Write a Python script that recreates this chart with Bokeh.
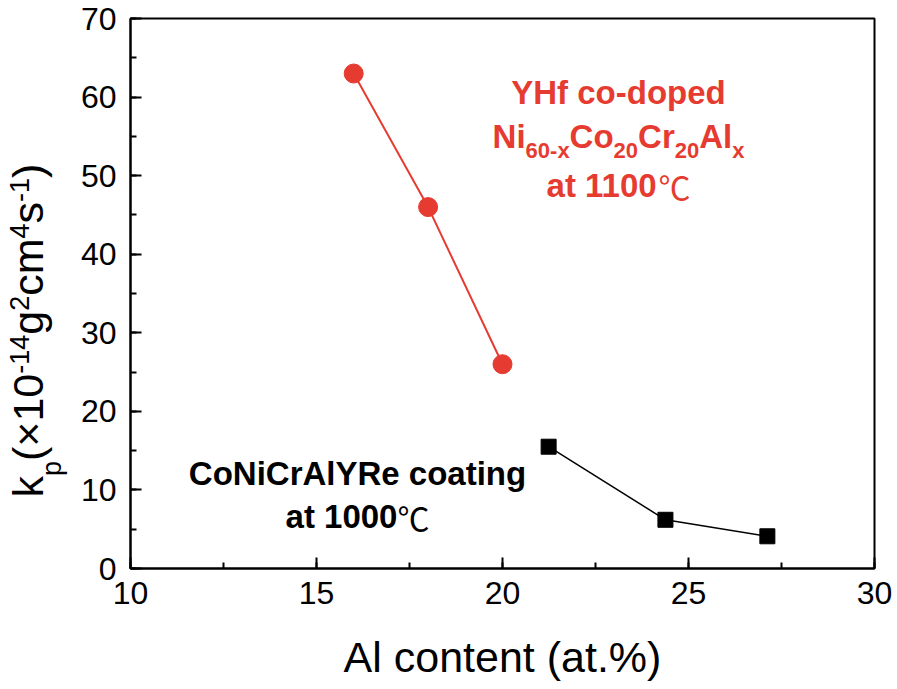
import math
from bokeh.plotting import figure
from bokeh.models import Label, SingleIntervalTicker
from bokeh.layouts import row
from bokeh.embed import file_html
from bokeh.resources import INLINE

# ---------------- data ----------------
red_al = [16, 18, 20]
red_kp = [63, 46, 26]
black_al = [21.24, 24.38, 27.12]
black_kp = [15.5, 6.2, 4.1]

x_range = (10, 30)
y_range = (0, 70)
x_tick_interval = 5
y_tick_interval = 10

x_title = "Al content (at.%)"
red_lines = ["YHf co-doped", "Ni|60-x|Co|20|Cr|20|Al|x", "at 1100"]
black_lines = ["CoNiCrAlYRe coating", "at 1000"]
celsius = "\u2103"

RED = "#e63b30"
FONT = "Liberation Sans"

# ---------------- layout (page px) ----------------
TOTAL_W, H = 897, 689
YL_W = 75                       # width of the y-title strip
FL, FR, FT, FB = 130, 874, 18, 568   # frame edges in page px
MAIN_W = TOTAL_W - YL_W
BASE_FIX = 0.36                 # label anchor -> alphabetic baseline correction (em)


def dx(X):
    return x_range[0] + (X - FL) * (x_range[1] - x_range[0]) / (FR - FL)


def dy(Y):
    return y_range[0] + (FB - Y) * (y_range[1] - y_range[0]) / (FB - FT)


REG = {"k": 500, "p": 556, "(": 333, ")": 333, "\u00d7": 584, "-": 333, "g": 556,
       "c": 500, "m": 833, "s": 500, "A": 667, "l": 222, "o": 556, "n": 556,
       "t": 278, "e": 556, "a": 556, ".": 278, "%": 889, " ": 278}
BOLD = {"Y": 667, "H": 722, "f": 333, " ": 278, "c": 556, "o": 611, "-": 333,
        "d": 611, "p": 611, "e": 556, "N": 722, "i": 278, "C": 722, "r": 389,
        "A": 722, "l": 278, "x": 556, "a": 556, "t": 333, "R": 722, "n": 611,
        "g": 611}


def tw(text, size, bold):
    tab = BOLD if bold else REG
    return sum(556 if ch.isdigit() else tab.get(ch, 556) for ch in text) * size / 1000.0


# ---------------- main figure ----------------
p = figure(width=MAIN_W, height=H, x_range=x_range, y_range=y_range,
           output_backend="svg", toolbar_location=None,
           min_border_left=FL - YL_W, min_border_right=TOTAL_W - FR,
           min_border_top=FT, min_border_bottom=H - FB)
p.background_fill_color = "white"
p.border_fill_color = "white"
p.outline_line_color = "black"
p.outline_line_width = 2
p.xgrid.visible = False
p.ygrid.visible = False

p.xaxis.ticker = SingleIntervalTicker(interval=x_tick_interval, num_minor_ticks=2)
p.yaxis.ticker = SingleIntervalTicker(interval=y_tick_interval, num_minor_ticks=2)
for ax in (p.xaxis, p.yaxis):
    ax.axis_line_width = 2
    ax.axis_line_color = "black"
    ax.major_tick_in = 11
    ax.major_tick_out = 0
    ax.minor_tick_in = 6
    ax.minor_tick_out = 0
    ax.major_tick_line_width = 2
    ax.minor_tick_line_width = 2
    ax.major_tick_line_color = "black"
    ax.minor_tick_line_color = "black"
    ax.major_label_text_font = FONT
    ax.major_label_text_font_size = "32px"
    ax.major_label_text_color = "black"
p.xaxis.major_label_standoff = 13
p.yaxis.major_label_standoff = 14
p.xaxis.axis_label = x_title
p.xaxis.axis_label_text_font = FONT
p.xaxis.axis_label_text_font_size = "43px"
p.xaxis.axis_label_text_font_style = "normal"
p.xaxis.axis_label_text_color = "black"
p.xaxis.axis_label_standoff = 26

# ---------------- series ----------------
p.line(red_al, red_kp, line_color=RED, line_width=2)
p.scatter(red_al, red_kp, size=19, marker="circle", fill_color=RED, line_color=RED)
p.line(black_al, black_kp, line_color="black", line_width=1.5)
p.scatter(black_al, black_kp, size=15, marker="square", fill_color="black", line_color="black")


def lab(fig, x, y, text, size, color="black", bold=False, angle=0.0, font=FONT):
    fig.add_layout(Label(x=x, y=y, text=text, angle=angle,
                         text_font=font, text_font_size=f"{size}px",
                         text_font_style="bold" if bold else "normal",
                         text_color=color, text_align="left",
                         text_baseline="alphabetic"))


def hlab(X, Y, text, size, color, bold=True, font=FONT):
    """horizontal label whose alphabetic baseline sits at page px (X, Y)"""
    lab(p, dx(X), dy(Y - BASE_FIX * size), text, size, color, bold, font=font)


# red annotation
cx_red = 618
w1 = tw(red_lines[0], 33, True)
hlab(cx_red - w1 / 2, 104, red_lines[0], 33, RED)
parts = red_lines[1].split("|")
segs = [(t, 33 if i % 2 == 0 else 22, 0 if i % 2 == 0 else 10) for i, t in enumerate(parts)]
tot = sum(tw(t, s, True) for t, s, _ in segs)
cur = cx_red - tot / 2
for t, s, sh in segs:
    hlab(cur, 148 + sh, t, s, RED)
    cur += tw(t, s, True)
w3 = tw(red_lines[2], 33, True) + 32
cur = cx_red - w3 / 2
hlab(cur, 197, red_lines[2], 33, RED)
hlab(cur + tw(red_lines[2], 33, True), 197, celsius, 32, RED, False, font="Noto Sans CJK SC")

# black annotation
cx_blk = 357
w1 = tw(black_lines[0], 33, True)
hlab(cx_blk - w1 / 2, 485, black_lines[0], 33, "black")
w2 = tw(black_lines[1], 33, True) + 32
cur = cx_blk - w2 / 2
hlab(cur, 528, black_lines[1], 33, "black")
hlab(cur + tw(black_lines[1], 33, True), 528, celsius, 32, "black", False, font="Noto Sans CJK SC")

# ---------------- y-title strip ----------------
q = figure(width=YL_W, height=H, x_range=(0, YL_W), y_range=(H - FB, H - FT),
           output_backend="svg", toolbar_location=None,
           x_axis_location=None, y_axis_location=None,
           min_border_left=0, min_border_right=0,
           min_border_top=FT, min_border_bottom=H - FB)
q.outline_line_color = None
q.xgrid.visible = False
q.ygrid.visible = False
q.background_fill_color = "white"
q.border_fill_color = "white"

ysegs = [("k", 43, 0), ("p", 27, 18), ("(\u00d710", 43, 0), ("-14", 27, -14),
         ("g", 43, 0), ("2", 27, -14), ("cm", 43, 0), ("4", 27, -14),
         ("s", 43, 0), ("-1", 27, -14), (")", 43, 0)]
base_X, cur_Y = 43, 497
for t, s, sh in ysegs:
    lab(q, base_X + sh - BASE_FIX * s, H - cur_Y, t, s, angle=math.pi / 2)
    cur_Y -= tw(t, s, False)

layout = row(q, p, spacing=0)
open("out.html", "w").write(file_html(layout, INLINE))
